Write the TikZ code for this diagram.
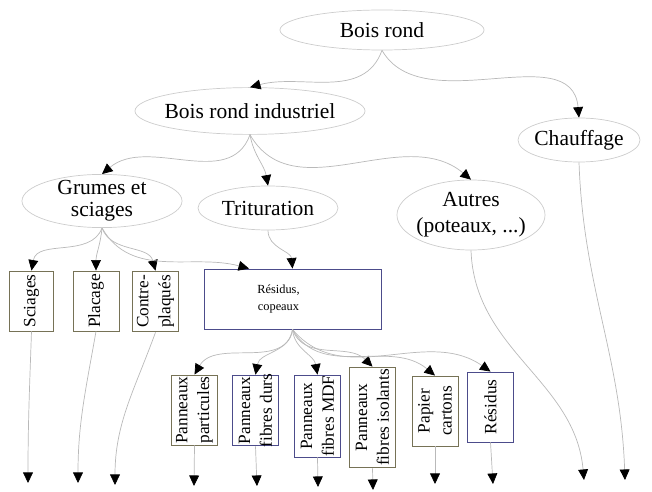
\documentclass[tikz,border=0pt]{standalone}
\usepackage{fontspec}
\setmainfont{Liberation Serif}
\usepackage{tikz}
\usetikzlibrary{shapes.geometric,arrows.meta}

\begin{document}
\begin{tikzpicture}[x=0.025cm,y=-0.025cm,
    ell/.style={ellipse,draw=gray!40,line width=0.5pt,inner sep=0pt},
    etext/.style={align=center,font=\fontsize{15.3}{15.5}\selectfont},
    box/.style={rectangle,draw=olive!35!black!75,line width=0.6pt,inner sep=0pt,minimum width=1.17cm},
    bbox/.style={box,draw=blue!35!black!70},
    vtext/.style={rotate=90,align=center,font=\fontsize{12.3}{15.5}\selectfont},
    flow/.style={draw=gray!55,line width=0.5pt,-{Triangle[length=7.5pt,width=7pt,color=black]}}]
  \useasboundingbox (0,0) rectangle (652,492);

  % ellipses
  \node[ell,minimum width=5.1cm,minimum height=1cm,label={[etext]center:Bois rond}] (boisrond) at (382,30) {};
  \node[ell,minimum width=5.75cm,minimum height=1.17cm,label={[etext]center:Bois rond industriel}] (industriel) at (250,111) {};
  \node[ell,minimum width=3.05cm,minimum height=1.1cm,label={[etext]center:Chauffage}] (chauffage) at (579,140) {};
  \node[ell,minimum width=4cm,minimum height=1.33cm,label={[etext]center:Grumes et\\sciages}] (grumes) at (102,201) {};
  \node[ell,minimum width=3.5cm,minimum height=1.1cm,label={[etext]center:Trituration}] (trituration) at (268,208) {};
  \node[ell,minimum width=3.7cm,minimum height=1.75cm,label={[etext]center:Autres\\[3pt](poteaux, ...)}] (autres) at (471,215) {};

  % boites
  \node[box,minimum width=1.12cm,minimum height=1.5cm,label={[vtext]center:Sciages}] (sciages) at (31.5,301) {};
  \node[box,minimum width=1.15cm,minimum height=1.5cm,label={[vtext]center:Placage}] (placage) at (96,301) {};
  \node[box,minimum height=1.52cm,label={[vtext]center:Contre-\\plaqués}] (contre) at (155.5,301.5) {};
  \node[bbox,minimum width=4.42cm,minimum height=1.5cm,
        label={[align=center,font=\fontsize{8.8}{12.5}\selectfont,xshift=-0.35cm]center:Résidus,\\copeaux}] (copeaux) at (292.5,299) {};

  \node[box,minimum height=1.75cm,label={[vtext]center:Panneaux\\particules}] (particules) at (194.5,410) {};
  \node[bbox,minimum height=1.77cm,label={[vtext]center:Panneaux\\fibres durs}] (durs) at (255.5,410.5) {};
  \node[bbox,minimum height=2.05cm,label={[vtext]center:Panneaux\\fibres MDF}] (mdf) at (317.5,416) {};
  \node[box,minimum height=2.52cm,label={[vtext]center:Panneaux\\fibres isolants}] (isolants) at (372.5,417.5) {};
  \node[box,minimum width=1.15cm,minimum height=1.75cm,label={[vtext]center:Papier\\cartons}] (papier) at (435,411) {};
  \node[bbox,minimum height=1.75cm,label={[vtext]center:Résidus}] (residus) at (490.5,407) {};

  % sorties
  \coordinate (s1) at (28,483);
  \coordinate (s2) at (78,483);
  \coordinate (s3) at (115,485);
  \coordinate (s4) at (194,486);
  \coordinate (s5) at (257,486);
  \coordinate (s6) at (318,487);
  \coordinate (s7) at (373,490);
  \coordinate (s8) at (435,484);
  \coordinate (s9) at (493,484);
  \coordinate (s10) at (584,480);
  \coordinate (s11) at (625,480);

  \draw[flow] (boisrond.south) to[out=-110,in=15] (industriel.north);
  \draw[flow] (boisrond.south) to[out=-60,in=95] (chauffage.north);
  \draw[flow] (industriel.south) to[out=-110,in=40] (grumes.north);
  \draw[flow] (industriel.south) to[out=-80,in=100] (trituration.north);
  \draw[flow] (industriel.south) to[out=-60,in=140] (autres.north);

  \draw[flow] (grumes.south) to[out=-110,in=80] (sciages.north);
  \draw[flow] (grumes.south) to[out=-95,in=90] (placage.north);
  \draw[flow] (grumes.south) to[out=-70,in=105] (contre.north);
  \draw[flow] (grumes.south) to[out=-60,in=165] (copeaux.145);
  \draw[flow] (trituration.south) to[out=-90,in=95] (copeaux.north);

  \draw[flow] (copeaux.south) to[out=-100,in=60] (particules.north);
  \draw[flow] (copeaux.south) to[out=-95,in=80] (durs.north);
  \draw[flow] (copeaux.south) to[out=-85,in=100] (mdf.north);
  \draw[flow] (copeaux.south) to[out=-70,in=135] (isolants.north);
  \draw[flow] (copeaux.south) to[out=-60,in=140] (papier.north);
  \draw[flow] (copeaux.south) to[out=-50,in=145] (residus.north);

  \draw[flow] (sciages.south) to[out=-92,in=90] (s1);
  \draw[flow] (placage.south) to[out=-100,in=90] (s2);
  \draw[flow] (contre.south) to[out=-110,in=90] (s3);
  \draw[flow] (particules.south) -- (s4);
  \draw[flow] (durs.south) -- (s5);
  \draw[flow] (mdf.south) -- (s6);
  \draw[flow] (isolants.south) -- (s7);
  \draw[flow] (papier.south) -- (s8);
  \draw[flow] (residus.south) -- (s9);
  \draw[flow] (autres.south) to[out=-88,in=95] (s10);
  \draw[flow] (chauffage.south) to[out=-88,in=92] (s11);
\end{tikzpicture}
\end{document}
